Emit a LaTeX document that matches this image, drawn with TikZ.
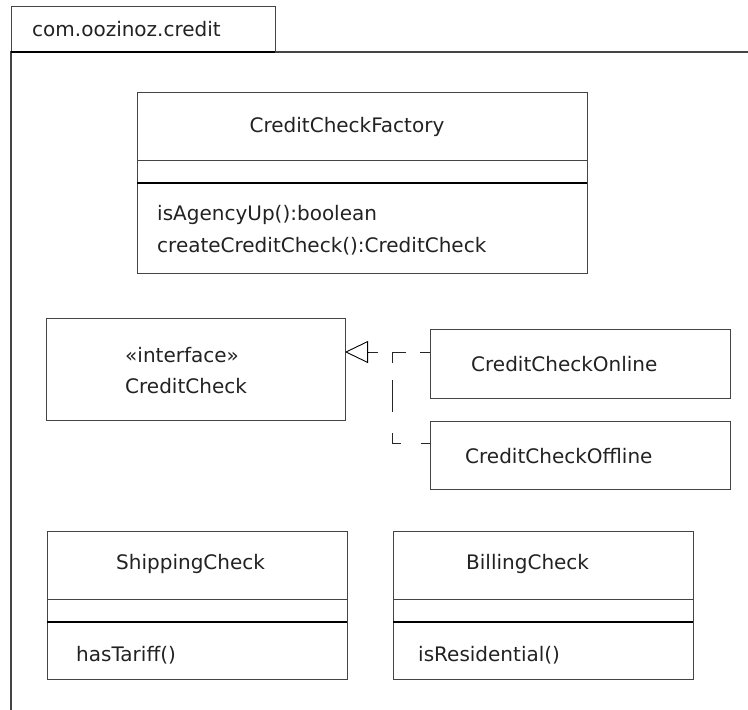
\documentclass[tikz,border=0pt]{standalone}
\usepackage{fontspec}
\setmainfont{DejaVu Sans}
\usetikzlibrary{arrows.meta}
\definecolor{ink}{HTML}{222222}
\definecolor{edge}{HTML}{444444}
\tikzset{
  box/.style={draw=edge, line width=1pt, anchor=north west, inner sep=0pt, outer sep=0pt},
  lbl/.style={anchor=west, inner sep=0pt, text=ink, font=\fontsize{20}{24}\selectfont},
  thindiv/.style={draw=edge, line width=0.9pt},
  thickdiv/.style={draw=black, line width=1.4pt},
  realize/.style={draw=black!85, line width=0.9pt},
  openhead/.style={-{Triangle[open, length=23pt, width=22pt, line width=0.9pt]}}
}
\begin{document}
\begin{tikzpicture}[x=1pt,y=-1pt]
\useasboundingbox (0,0) rectangle (748,710);
% package
\node[box, minimum width=264pt, minimum height=46pt] (tab) at (11,6) {};
\node[lbl] (pkgname) at (32,29) {com.oozinoz.credit};
\coordinate (pkgtl) at (11,52);
\coordinate (pkgtr) at (748,52);
\coordinate (pkgbl) at (11,710);
\draw[draw=edge, line width=1.1pt] (pkgtr) -- (pkgtl) -- (pkgbl);
\draw[black, line width=1.3pt] (tab.south west) -- (tab.south east);
% CreditCheckFactory
\node[box, minimum width=450pt, minimum height=181pt] (fact) at (137,92) {};
\node[lbl, anchor=center] (factname) at (347,127) {CreditCheckFactory};
\draw[thindiv] (137,160) -- (587,160);
\draw[thickdiv] (137,183) -- (587,183);
\node[lbl] (m1) at (157,215) {isAgencyUp():boolean};
\node[lbl] (m2) at (157,246) {createCreditCheck():CreditCheck};
% interface
\node[box, minimum width=299pt, minimum height=102pt] (iface) at (46,318) {};
\node[lbl] (stereo) at (125,355) {«interface»};
\node[lbl] (ifname) at (125,386) {CreditCheck};
% implementations
\node[box, minimum width=300pt, minimum height=69pt] (online) at (430,329) {};
\node[lbl] (onname) at (471,364) {CreditCheckOnline};
\node[box, minimum width=300pt, minimum height=68pt] (offline) at (430,421) {};
\node[lbl] (offname) at (465,456) {CreditCheckOffline};
% realization connectors
\coordinate (onport) at (430,352);
\coordinate (offport) at (430,443);
\coordinate (joint) at (392,352);
\coordinate (headbase) at (368,352);
\coordinate (ifport) at (345,352);
\draw[realize, dash pattern=on 9pt off 20pt on 19pt off 21pt on 32pt off 17pt on 11pt off 14pt on 10pt off 200pt]
  (offport) -- (offport -| joint) -- (joint) -- (headbase);
\draw[realize, dash pattern=on 10pt off 14pt on 16pt off 200pt] (onport) -- (joint);
\draw[openhead, line width=0.9pt] (headbase) -- (ifport);
% ShippingCheck
\node[box, minimum width=300pt, minimum height=148pt] (ship) at (47,531) {};
\node[lbl] (shipname) at (116,564) {ShippingCheck};
\draw[thindiv] (47,599) -- (347,599);
\draw[thickdiv] (47,622) -- (347,622);
\node[lbl] (shipm) at (76,655) {hasTariff()};
% BillingCheck
\node[box, minimum width=300pt, minimum height=148pt] (bill) at (393,531) {};
\node[lbl] (billname) at (466,564) {BillingCheck};
\draw[thindiv] (393,599) -- (693,599);
\draw[thickdiv] (393,622) -- (693,622);
\node[lbl] (billm) at (418,655) {isResidential()};
\end{tikzpicture}
\end{document}
